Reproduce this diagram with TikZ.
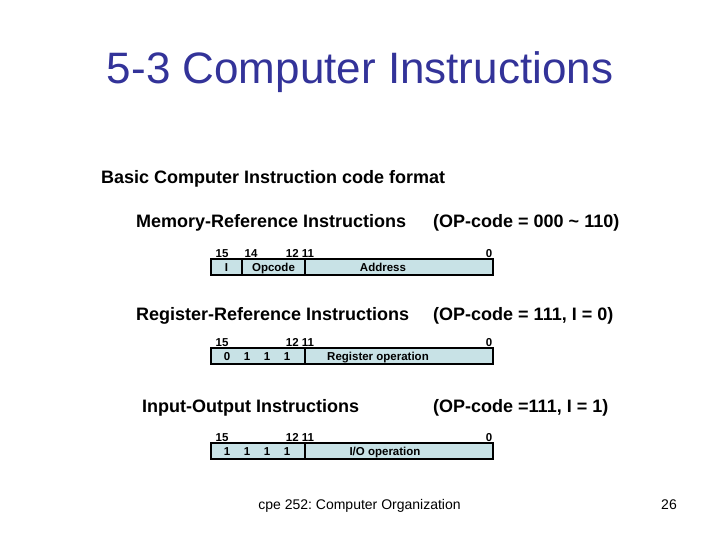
\documentclass[tikz,border=0pt]{standalone}
\usepackage{fontspec}
\setmainfont{Liberation Sans}
\usetikzlibrary{positioning}
\definecolor{titleblue}{HTML}{333399}
\definecolor{fieldfill}{HTML}{C8E2E6}
\frenchspacing

\begin{document}
\begin{tikzpicture}[x=1pt,y=-1pt,
  head/.style={anchor=base west,inner sep=0pt,font=\fontsize{18}{20}\selectfont\bfseries},
  fld/.style={draw=black,line width=1.4pt,fill=fieldfill,minimum height=16pt,
              inner sep=0pt,outer sep=0pt,anchor=north west},
  bit/.style={inner sep=0pt,anchor=base,font=\fontsize{11.5}{12}\selectfont\bfseries},
  ftxt/.style={inner sep=0pt,anchor=base,font=\fontsize{11.5}{12}\selectfont\bfseries}]
\useasboundingbox (0,0) rectangle (720,540);

\node[anchor=base,inner sep=0pt,text=titleblue,font=\fontsize{44}{48}\selectfont]
  (title) at (360,84) {5-3 Computer Instructions};
\node[head] (basic) at (101,184) {Basic Computer Instruction code format};

% memory-reference
\node[head] (mhead) at (136,227) {Memory-Reference Instructions};
\node[head] (mop) at (433,227) {(OP-code = 000 \textasciitilde{} 110)};
\node[bit] (m15) at (222,257) {15};
\node[bit] (m14) at (251,257) {14};
\node[bit] (m12) at (300,257) {12 11};
\node[bit] (m0) at (489,257) {0};
\node[fld,minimum width=31pt] (mi) at (211,259) {};
\node[fld,minimum width=63pt] (mcode) at (mi.north east) {};
\node[fld,minimum width=188pt] (maddr) at (mcode.north east) {};
\node[ftxt] (mit) at (226.5,271) {I};
\node[ftxt] (mcodet) at (273.5,271) {Opcode};
\node[ftxt] (maddrt) at (383,271) {Address};

% register-reference
\node[head] (rhead) at (136,320) {Register-Reference Instructions};
\node[head] (rop) at (433,320) {(OP-code = 111, I = 0)};
\node[bit] (r15) at (222,346) {15};
\node[bit] (r12) at (300,346) {12 11};
\node[bit] (r0) at (489,346) {0};
\node[fld,minimum width=94pt] (rbits) at (211,348) {};
\node[fld,minimum width=188pt] (roper) at (rbits.north east) {};
\foreach \d/\x [count=\i] in {0/227,1/247,1/267,1/287}
  \node[ftxt] (rb\i) at (\x,360) {\d};
\node[ftxt] (ropert) at (378,360) {Register operation};

% input-output
\node[head] (ihead) at (142,412) {Input-Output Instructions};
\node[head] (iop) at (433,412) {(OP-code =111, I = 1)};
\node[bit] (i15) at (222,441) {15};
\node[bit] (i12) at (300,441) {12 11};
\node[bit] (i0) at (489,441) {0};
\node[fld,minimum width=94pt] (ibits) at (211,443) {};
\node[fld,minimum width=188pt] (ioper) at (ibits.north east) {};
\foreach \d/\x [count=\i] in {1/227,1/247,1/267,1/287}
  \node[ftxt] (ib\i) at (\x,455) {\d};
\node[ftxt] (iopert) at (385,455) {I/O operation};

\node[anchor=base,inner sep=0pt,font=\fontsize{14}{16}\selectfont]
  (foot) at (359.5,509) {cpe 252: Computer Organization};
\node[anchor=base east,inner sep=0pt,font=\fontsize{14}{16}\selectfont]
  (page) at (677,509) {26};
\end{tikzpicture}
\end{document}
